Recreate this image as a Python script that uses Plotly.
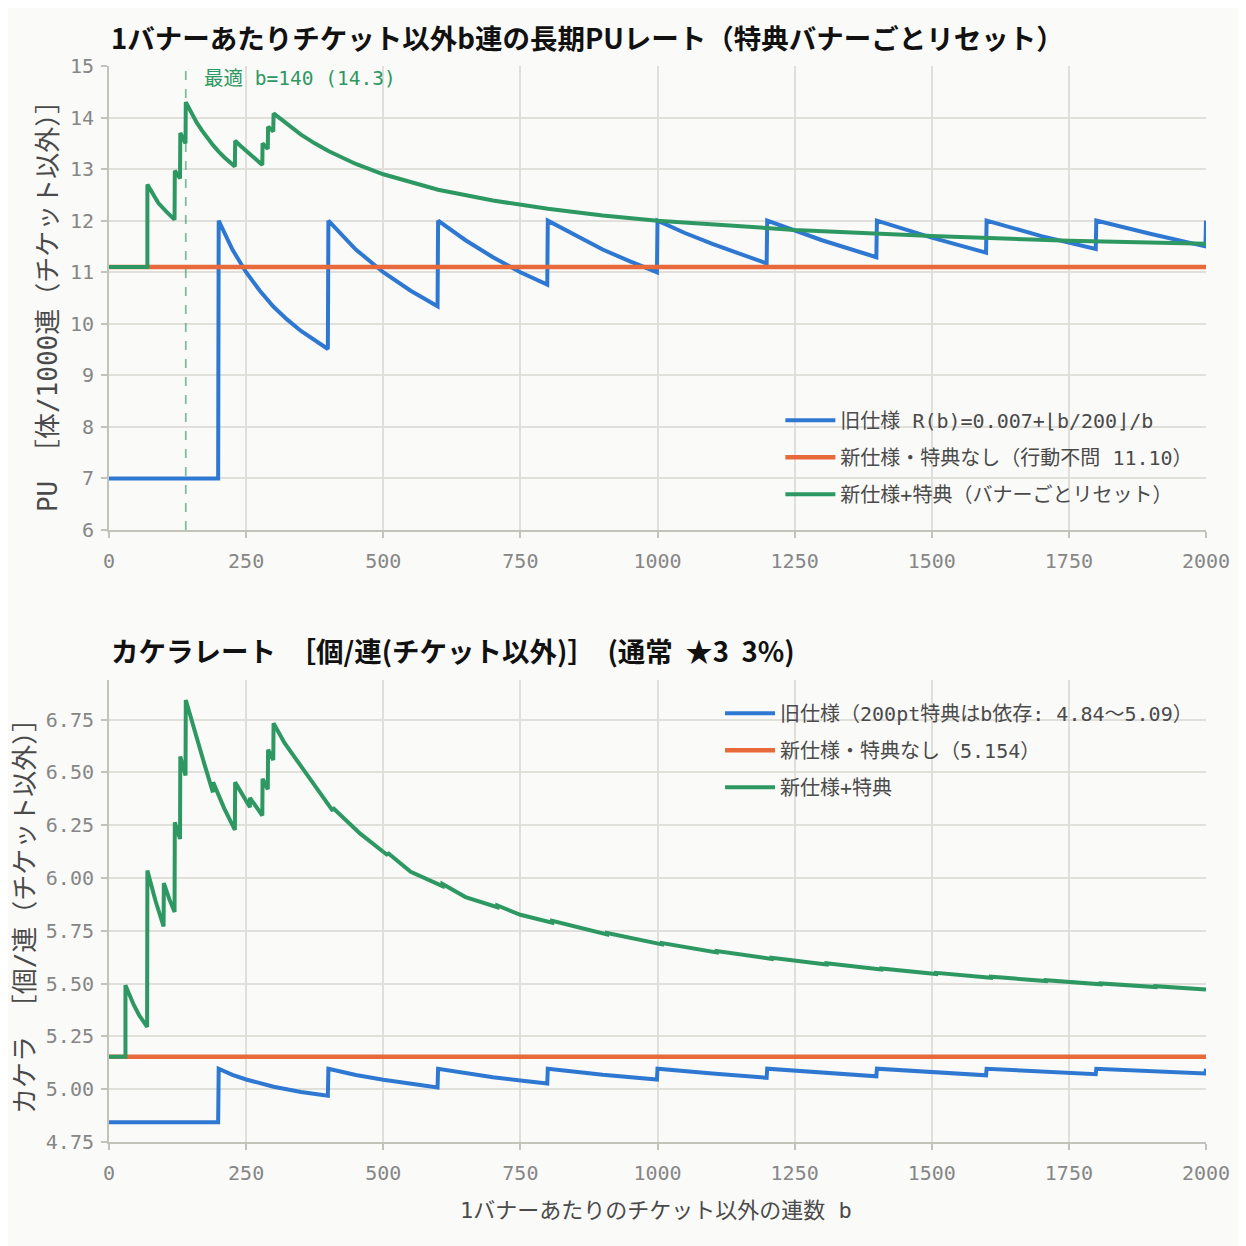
import plotly.graph_objects as go
from plotly.subplots import make_subplots

# ---------------- data ----------------
# Top panel: PU per 1000 pulls
B_OLD = [0, 199, 200, 225, 250, 275, 300, 325, 350, 375, 399,
         400, 425, 450, 500, 550, 599, 600, 650, 700, 750, 799,
         800, 850, 900, 950, 999, 1000, 1050, 1100, 1150, 1199,
         1200, 1300, 1399, 1400, 1500, 1599, 1600, 1700, 1799,
         1800, 1900, 1999, 2000]
PU_OLD = [7.0, 7.0, 12.0, 11.44, 11.0, 10.64, 10.33, 10.08, 9.86, 9.67, 9.51,
          12.0, 11.71, 11.44, 11.0, 10.64, 10.34, 12.0, 11.62, 11.29, 11.0, 10.76,
          12.0, 11.71, 11.44, 11.21, 11.0, 12.0, 11.76, 11.55, 11.35, 11.17,
          12.0, 11.62, 11.29, 12.0, 11.67, 11.38, 12.0, 11.70, 11.45,
          12.0, 11.74, 11.50, 12.0]

B_NEW_FLAT = [0, 2000]
PU_NEW_FLAT = [11.10, 11.10]

B_NEW_BONUS = [0, 70, 70, 80, 90, 105, 119.5, 120, 129.5, 130, 139.5, 140,
               145, 150, 160, 170, 180, 190, 200, 210, 229.5, 230, 240, 255, 265, 279.5,
               280, 289.5, 290, 299.5, 300, 310, 325, 350, 375, 400, 450, 500,
               600, 700, 800, 900, 1000, 1250, 1500, 1750, 2000]
PU_NEW_BONUS = [11.10, 11.10, 12.70, 12.50, 12.34, 12.17, 12.02, 12.97, 12.82, 13.70, 13.50, 14.30,
                14.19, 14.09, 13.90, 13.74, 13.59, 13.46, 13.34, 13.23, 13.05, 13.55, 13.45, 13.30,
                13.22, 13.08, 13.50, 13.39, 13.82, 13.73, 14.08, 14.00, 13.87, 13.67, 13.50,
                13.35, 13.10, 12.90, 12.60, 12.39, 12.23, 12.10, 12.00, 11.82, 11.70, 11.61, 11.55]

OPT_B = 140
OPT_PU = 14.3

# Bottom panel: kakera per pull
B_K_OLD = [0, 199, 200, 225, 250, 300, 350, 399, 400, 450, 500, 550, 599,
           600, 650, 700, 750, 799, 800, 900, 999, 1000, 1100, 1199,
           1200, 1300, 1399, 1400, 1500, 1599, 1600, 1700, 1799,
           1800, 1900, 1999, 2000]
K_OLD = [4.844, 4.844, 5.097, 5.068, 5.046, 5.012, 4.987, 4.969, 5.097, 5.067, 5.045, 5.025, 5.008,
         5.097, 5.075, 5.057, 5.041, 5.027, 5.097, 5.068, 5.046, 5.097, 5.074, 5.054,
         5.097, 5.078, 5.061, 5.097, 5.080, 5.066, 5.097, 5.083, 5.071,
         5.097, 5.085, 5.074, 5.097]

B_K_FLAT = [0, 2000]
K_FLAT = [5.154, 5.154]

B_K_BONUS = [0, 30, 30, 38, 45, 55, 69.5, 70, 85, 99.5, 100, 110, 119.5,
             120, 129.5, 130, 139.5, 140, 150, 165, 175, 189.5, 190, 210, 229.5,
             230, 257, 257, 279.5, 280, 289.5, 290, 299.5, 300, 320, 350, 380,
             408, 408, 458, 508, 508, 550, 608, 608, 650, 708, 708, 750,
             808, 808, 908, 908, 1008, 1008, 1108, 1108, 1208, 1208,
             1308, 1308, 1408, 1408, 1508, 1508, 1608, 1608, 1708, 1708,
             1808, 1808, 1908, 1908, 2000]
K_BONUS = [5.154, 5.154, 5.492, 5.44, 5.40, 5.35, 5.295, 6.036, 5.89, 5.771, 5.976, 5.90, 5.839,
           6.264, 6.185, 6.575, 6.486, 6.843, 6.75, 6.62, 6.53, 6.406, 6.453, 6.33, 6.228,
           6.453, 6.335, 6.38, 6.296, 6.470, 6.42, 6.608, 6.559, 6.733, 6.64, 6.53, 6.42,
           6.318, 6.333, 6.21, 6.108, 6.120, 6.03, 5.962, 5.972, 5.91, 5.862, 5.870, 5.826,
           5.789, 5.797, 5.733, 5.740, 5.686, 5.692, 5.648, 5.654, 5.617, 5.622,
           5.591, 5.596, 5.567, 5.572, 5.546, 5.551, 5.528, 5.533, 5.512, 5.516,
           5.497, 5.501, 5.484, 5.488, 5.472]

NB = "\u00a0"
TITLE_TOP = "1バナーあたりチケット以外b連の長期PUレート（特典バナーごとリセット）"
TITLE_BOTTOM = f"カケラレート{NB}{NB}［個/連(チケット以外)］{NB}{NB}(通常{NB}{NB}★3{NB}{NB}3%)"
YTITLE_TOP = "PU ［体/1000連（チケット以外）］"
YTITLE_BOTTOM = "カケラ ［個/連（チケット以外）］"
XTITLE = "1バナーあたりのチケット以外の連数 b"
NAMES_TOP = ["旧仕様 R(b)=0.007+⌊b/200⌋/b", "新仕様・特典なし（行動不問 11.10）", "新仕様+特典（バナーごとリセット）"]
NAMES_BOTTOM = ["旧仕様（200pt特典はb依存: 4.84〜5.09）", "新仕様・特典なし（5.154）", "新仕様+特典"]
OPT_LABEL = f"最適 b={OPT_B} ({OPT_PU})"

# ---------------- styling ----------------
BLUE = "#2f78d2"
ORANGE = "#e86a3a"
GREEN = "#2e9862"
BG = "#fafaf9"
GRID = "#e0dfda"
AXIS = "#c4c3bb"
TICKC = "#868686"
MONO = "DejaVu Sans Mono, Noto Sans CJK JP"
CJK = "Noto Sans CJK JP"

fig = make_subplots(rows=2, cols=1)

fig.add_trace(go.Scatter(x=B_OLD, y=PU_OLD, mode="lines", name=NAMES_TOP[0],
                         line=dict(color=BLUE, width=4), legend="legend", legendgroup="a"), row=1, col=1)
fig.add_trace(go.Scatter(x=B_NEW_FLAT, y=PU_NEW_FLAT, mode="lines", name=NAMES_TOP[1],
                         line=dict(color=ORANGE, width=4.5), legend="legend", legendgroup="b"), row=1, col=1)
fig.add_trace(go.Scatter(x=B_NEW_BONUS, y=PU_NEW_BONUS, mode="lines", name=NAMES_TOP[2],
                         line=dict(color=GREEN, width=4), legend="legend", legendgroup="c"), row=1, col=1)

fig.add_trace(go.Scatter(x=B_K_OLD, y=K_OLD, mode="lines", name=NAMES_BOTTOM[0],
                         line=dict(color=BLUE, width=4), legend="legend2", legendgroup="d"), row=2, col=1)
fig.add_trace(go.Scatter(x=B_K_FLAT, y=K_FLAT, mode="lines", name=NAMES_BOTTOM[1],
                         line=dict(color=ORANGE, width=4.5), legend="legend2", legendgroup="e"), row=2, col=1)
fig.add_trace(go.Scatter(x=B_K_BONUS, y=K_BONUS, mode="lines", name=NAMES_BOTTOM[2],
                         line=dict(color=GREEN, width=4), legend="legend2", legendgroup="f"), row=2, col=1)

fig.add_shape(type="line", xref="x", yref="y domain", x0=OPT_B, x1=OPT_B, y0=0, y1=1,
              line=dict(color=GREEN, width=1.8, dash="dash"), opacity=0.6)

axis_common = dict(
    showgrid=True, gridcolor=GRID, gridwidth=1.5,
    showline=True, linecolor=AXIS, linewidth=2,
    ticks="outside", ticklen=6, tickcolor=AXIS, tickwidth=1.5,
    tickfont=dict(family=MONO, size=20, color=TICKC),
    zeroline=False, mirror=False,
)

fig.update_xaxes(**axis_common, range=[0, 2000], ticklabelstandoff=6,
                 tickvals=[0, 250, 500, 750, 1000, 1250, 1500, 1750, 2000])
fig.update_yaxes(**axis_common, ticklabelstandoff=3)
fig.update_yaxes(range=[6, 15], dtick=1, row=1, col=1)
fig.update_yaxes(range=[4.75, 6.938], tickvals=[4.75, 5.0, 5.25, 5.5, 5.75, 6.0, 6.25, 6.5, 6.75],
                 tickformat=".2f", row=2, col=1)

legend_font = dict(family=MONO, size=20, color="#4a4a4a")
fig.update_layout(
    width=1246, height=1246,
    margin=dict(l=101, r=48, t=58, b=112),
    paper_bgcolor=BG, plot_bgcolor=BG,
    xaxis=dict(domain=[0, 1], anchor="y"),
    yaxis=dict(domain=[0.5688, 1.0], anchor="x"),
    xaxis2=dict(domain=[0, 1], anchor="y2"),
    yaxis2=dict(domain=[0.0, 0.4294], anchor="x2"),
    legend=dict(x=0.612, y=0.689, xanchor="left", yanchor="top", bgcolor="rgba(0,0,0,0)",
                font=legend_font, tracegroupgap=8, itemwidth=50),
    legend2=dict(x=0.557, y=0.4166, xanchor="left", yanchor="top", bgcolor="rgba(0,0,0,0)",
                 font=legend_font, tracegroupgap=8, itemwidth=50),
    showlegend=True,
)

annos = [
    dict(text=f"<b>{TITLE_TOP}</b>", xref="paper", yref="paper", x=0, y=1.027,
         xanchor="left", yanchor="middle", showarrow=False,
         font=dict(family=CJK, size=27.5, color="#111111")),
    dict(text=f"<b>{TITLE_BOTTOM}</b>", xref="paper", yref="paper", x=0, y=0.457,
         xanchor="left", yanchor="middle", showarrow=False,
         font=dict(family=CJK, size=27.5, color="#111111")),
    dict(text=YTITLE_TOP, xref="paper", yref="paper", x=-0.0556, y=0.7825, textangle=-90,
         xanchor="center", yanchor="middle", showarrow=False,
         font=dict(family=MONO, size=26, color="#4a4a4a")),
    dict(text=YTITLE_BOTTOM, xref="paper", yref="paper", x=-0.0766, y=0.2156, textangle=-90,
         xanchor="center", yanchor="middle", showarrow=False,
         font=dict(family=MONO, size=26, color="#4a4a4a")),
    dict(text=XTITLE, xref="paper", yref="paper", x=0.499, y=-0.0632,
         xanchor="center", yanchor="middle", showarrow=False,
         font=dict(family=MONO, size=22, color="#4a4a4a")),
    dict(text=OPT_LABEL, xref="x", yref="y", x=OPT_B, y=14.75, xshift=16,
         xanchor="left", yanchor="middle", showarrow=False,
         font=dict(family=MONO, size=19.5, color=GREEN)),
]
fig.update_layout(annotations=annos)

fig.write_html("out.html")
